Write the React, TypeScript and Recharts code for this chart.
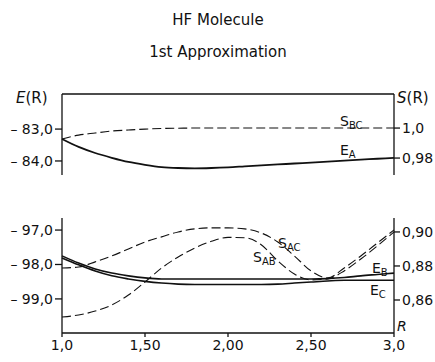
import { LineChart, Line, XAxis, YAxis } from 'recharts';

// bond distance R
const rValues = [1.0, 1.1, 1.2, 1.3, 1.4, 1.5, 1.6, 1.7, 1.8, 1.9, 2.0, 2.1, 2.2, 2.3, 2.4, 2.5, 2.6, 2.7, 2.8, 2.9, 3.0];

// upper panel
const eA = [-83.31, -83.56, -83.75, -83.9, -84.03, -84.12, -84.19, -84.22, -84.23, -84.22, -84.2, -84.17, -84.14, -84.11, -84.08, -84.05, -84.02, -83.99, -83.96, -83.93, -83.9];
const sBC = [0.9927, 0.9953, 0.9967, 0.998, 0.9987, 0.9993, 0.9997, 0.9999, 1.0, 1.0, 1.0, 1.0, 1.0, 1.0, 1.0, 1.0, 1.0, 1.0, 1.0, 1.0, 1.0];

// lower panel
const eB = [-97.75, -97.96, -98.13, -98.25, -98.33, -98.39, -98.42, -98.42, -98.42, -98.42, -98.42, -98.42, -98.42, -98.42, -98.42, -98.42, -98.41, -98.38, -98.33, -98.29, -98.25];
const eC = [-97.81, -98.01, -98.19, -98.33, -98.42, -98.49, -98.54, -98.57, -98.58, -98.58, -98.58, -98.58, -98.58, -98.57, -98.54, -98.51, -98.48, -98.46, -98.46, -98.46, -98.46];
const sAC = [0.8788, 0.8794, 0.8824, 0.8859, 0.89, 0.8941, 0.8971, 0.9, 0.9018, 0.9024, 0.9024, 0.9018, 0.8994, 0.8941, 0.8859, 0.8771, 0.873, 0.8788, 0.8859, 0.8935, 0.9012];
const sAB = [0.85, 0.8512, 0.8535, 0.8571, 0.8629, 0.8706, 0.8788, 0.8853, 0.8906, 0.8945, 0.8968, 0.8966, 0.8925, 0.883, 0.8753, 0.8718, 0.8724, 0.8771, 0.8841, 0.8918, 0.9];

const topTicksE = [-83, -84];
const topTicksS = [1.0, 0.98];
const topLabelsS = ['1,0', '0,98'];
const bottomTicksE = [-97, -98, -99];
const bottomTicksS = [0.9, 0.88, 0.86];
const bottomLabelsS = ['0,90', '0,88', '0,86'];
const rTicks = [1, 1.5, 2, 2.5, 3];
const rTickLabels = ['1,0', '1,50', '2,00', '2,50', '3,0'];

const topData = rValues.map((r, i) => ({ r, eA: eA[i], sBC: sBC[i] }));
const bottomData = rValues.map((r, i) => ({ r, eB: eB[i], eC: eC[i], sAC: sAC[i], sAB: sAB[i] }));

const FONT = 'DejaVu Sans';
const tickStyle = { fill: '#111', fontSize: 14, fontFamily: FONT };
const axisLine = { stroke: '#111', strokeWidth: 1.3 };

const fmtE = (v: number) => '\u2013 ' + Math.abs(v).toFixed(1).replace('.', ',');

export default function App() {
  return (
    <div style={{ position: 'absolute', left: 0, top: 0, width: 435, height: 362, background: '#fff', fontFamily: FONT }}>
      {/* upper panel */}
      <div style={{ position: 'absolute', left: 0, top: 0 }}>
        <LineChart width={435} height={185} data={topData} margin={{ top: 92, right: 0, bottom: 10, left: 0 }}>
          <XAxis dataKey="r" type="number" domain={[1, 3]} orientation="top" height={2} tick={false} tickLine={false} axisLine={axisLine} />
          <YAxis yAxisId="e" width={62} domain={[-84.44, -81.9]} ticks={topTicksE} tickFormatter={fmtE}
            tick={tickStyle} tickSize={7} tickMargin={2} axisLine={axisLine} tickLine={axisLine} />
          <YAxis yAxisId="s" orientation="right" width={41} domain={[0.9687, 1.0227]} ticks={topTicksS}
            tickFormatter={(v: number) => topLabelsS[topTicksS.indexOf(v)]}
            tick={tickStyle} tickSize={6} tickMargin={2} axisLine={axisLine} tickLine={axisLine} />
          <Line yAxisId="e" dataKey="eA" type="monotone" stroke="#111" strokeWidth={1.8} dot={false} isAnimationActive={false} />
          <Line yAxisId="s" dataKey="sBC" type="monotone" stroke="#111" strokeWidth={1.1} strokeDasharray="9 4" dot={false} isAnimationActive={false} />
        </LineChart>
      </div>

      {/* lower panel */}
      <div style={{ position: 'absolute', left: 0, top: 200 }}>
        <LineChart width={435} height={162} data={bottomData} margin={{ top: 18, right: 0, bottom: 0, left: 0 }}>
          <XAxis dataKey="r" type="number" domain={[1, 3]} ticks={rTicks} height={29}
            tickFormatter={(v: number) => rTickLabels[rTicks.indexOf(v)]}
            tick={tickStyle} tickSize={4} tickMargin={3} axisLine={axisLine} tickLine={axisLine} />
          <YAxis yAxisId="e" width={62} domain={[-99.99, -96.65]} ticks={bottomTicksE} tickFormatter={fmtE}
            tick={tickStyle} tickSize={7} tickMargin={2} axisLine={axisLine} tickLine={axisLine} />
          <YAxis yAxisId="s" orientation="right" width={41} domain={[0.8406, 0.9082]} ticks={bottomTicksS}
            tickFormatter={(v: number) => bottomLabelsS[bottomTicksS.indexOf(v)]}
            tick={tickStyle} tickSize={6} tickMargin={2} axisLine={axisLine} tickLine={axisLine} />
          <Line yAxisId="e" dataKey="eB" type="monotone" stroke="#111" strokeWidth={1.6} dot={false} isAnimationActive={false} />
          <Line yAxisId="e" dataKey="eC" type="monotone" stroke="#111" strokeWidth={1.6} dot={false} isAnimationActive={false} />
          <Line yAxisId="s" dataKey="sAC" type="monotone" stroke="#111" strokeWidth={1.1} strokeDasharray="9 4" dot={false} isAnimationActive={false} />
          <Line yAxisId="s" dataKey="sAB" type="monotone" stroke="#111" strokeWidth={1.1} strokeDasharray="9 4" dot={false} isAnimationActive={false} />
        </LineChart>
      </div>

      {/* titles and curve labels */}
      <svg width={435} height={362} style={{ position: 'absolute', left: 0, top: 0, pointerEvents: 'none' }}
        fontFamily={FONT} fill="#111">
        <text x={218} y={25} fontSize={15} textAnchor="middle">HF Molecule</text>
        <text x={218} y={57} fontSize={15} textAnchor="middle">1st Approximation</text>

        <text x={16} y={103} fontSize={15}><tspan fontStyle="italic">E</tspan>(R)</text>
        <text x={397} y={103} fontSize={15}><tspan fontStyle="italic">S</tspan>(R)</text>
        <text x={397} y={331} fontSize={14} fontStyle="italic">R</text>

        <text x={340} y={126} fontSize={14}>S<tspan fontSize={10} dy={3}>BC</tspan></text>
        <text x={340} y={155} fontSize={14}>E<tspan fontSize={10} dy={3}>A</tspan></text>
        <text x={278} y={248} fontSize={14}>S<tspan fontSize={10} dy={3}>AC</tspan></text>
        <text x={253} y={262} fontSize={14}>S<tspan fontSize={10} dy={3}>AB</tspan></text>
        <text x={372} y={273} fontSize={14}>E<tspan fontSize={10} dy={3}>B</tspan></text>
        <text x={370} y={295} fontSize={14}>E<tspan fontSize={10} dy={3}>C</tspan></text>
      </svg>
    </div>
  );
}
